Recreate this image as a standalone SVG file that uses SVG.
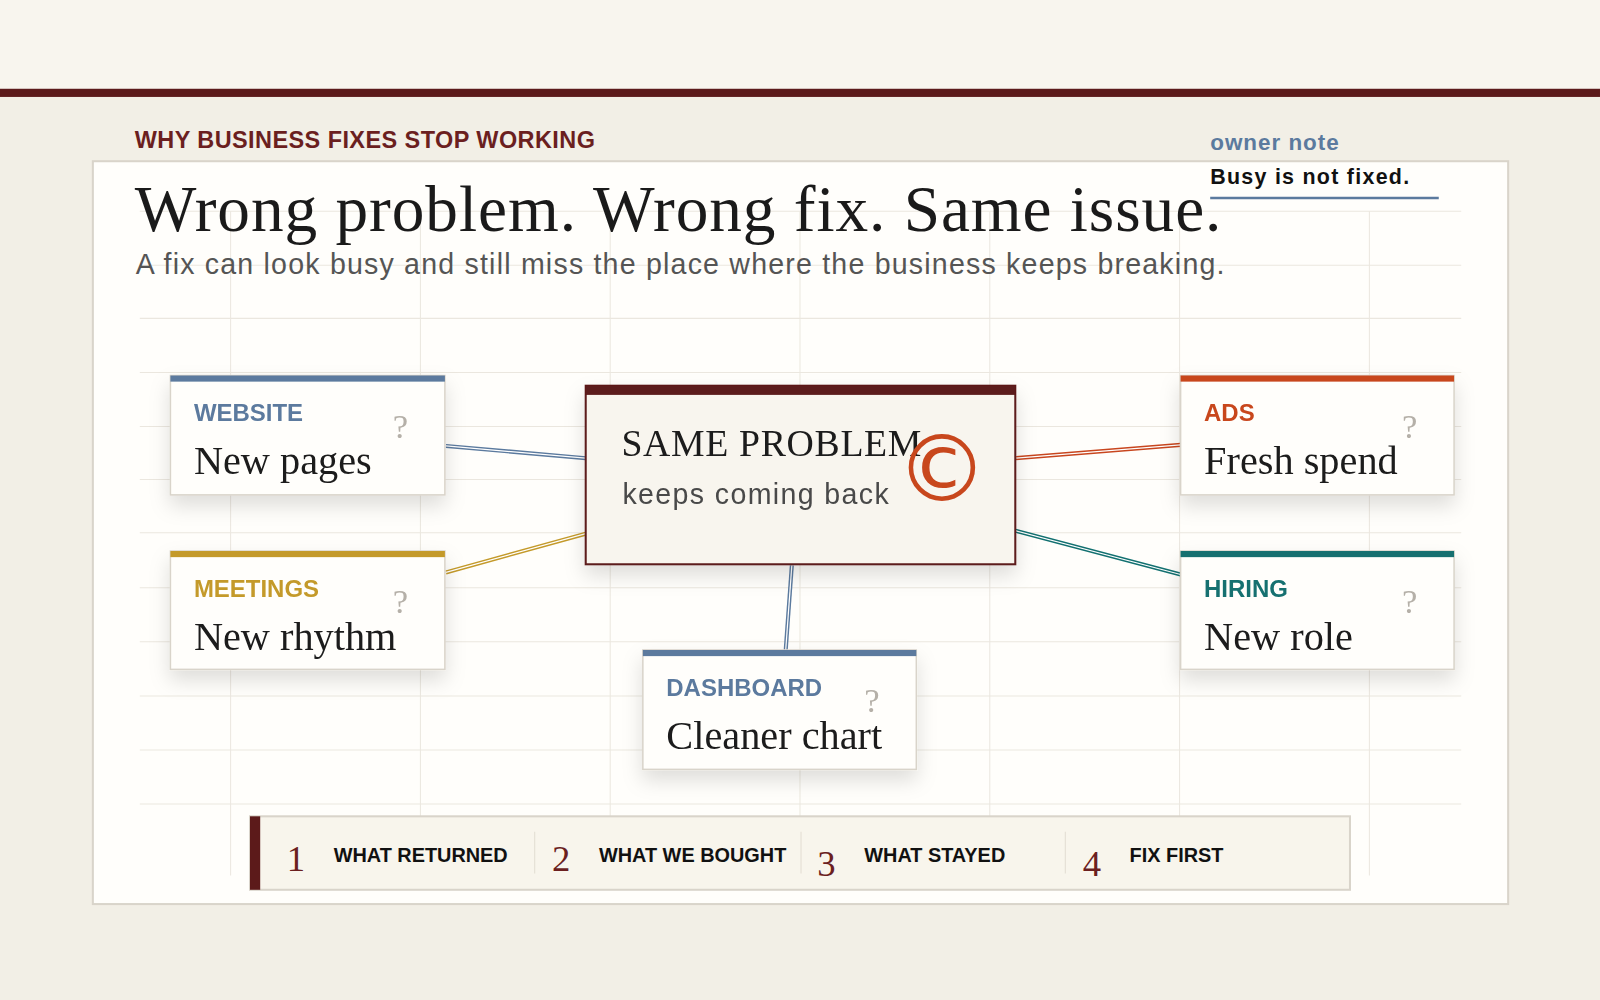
<svg xmlns="http://www.w3.org/2000/svg" width="1600" height="1000" viewBox="0 0 1600 1000">
<defs>
<filter id="sh" x="-20%" y="-20%" width="140%" height="160%"><feDropShadow dx="0" dy="10" stdDeviation="10" flood-color="#000" flood-opacity="0.13"/></filter>
<style>
.grid line{stroke:#ebe7df;stroke-width:1}
.card{fill:#fffefb;stroke:#d9d4ca;stroke-width:1.5}
.lab{font-family:"Liberation Sans",Arial,sans-serif;font-weight:bold;font-size:23.5px}
.big{font-family:"Liberation Serif","DejaVu Serif",serif;font-size:39.5px;fill:#1a1a1a}
.q{font-family:"Liberation Serif",serif;font-size:34px;fill:#b5b0a8}
.fn{font-family:"Liberation Serif",serif;font-size:36px;fill:#6b1f1f}
.ft{font-family:"Liberation Sans",Arial,sans-serif;font-weight:bold;font-size:19.5px;fill:#111}
</style>
</defs>
<g transform="scale(1.0204)">
<rect width="1568" height="980" fill="#f2efe6"/>
<rect width="1568" height="87" fill="#f8f5ee"/>
<rect y="87" width="1568" height="8" fill="#5c1a1a"/>
<rect x="91" y="158" width="1387" height="728" fill="#fffefb" stroke="#d9d4ca" stroke-width="2"/>
<g class="grid">
<line x1="137" y1="207" x2="1432" y2="207"/><line x1="137" y1="260" x2="1432" y2="260"/><line x1="137" y1="312" x2="1432" y2="312"/><line x1="137" y1="365" x2="1432" y2="365"/><line x1="137" y1="418" x2="1432" y2="418"/><line x1="137" y1="470" x2="1432" y2="470"/><line x1="137" y1="522" x2="1432" y2="522"/><line x1="137" y1="576" x2="1432" y2="576"/><line x1="137" y1="629" x2="1432" y2="629"/><line x1="137" y1="682" x2="1432" y2="682"/><line x1="137" y1="735" x2="1432" y2="735"/><line x1="137" y1="788" x2="1432" y2="788"/>
<line x1="226" y1="207" x2="226" y2="858"/><line x1="412" y1="207" x2="412" y2="858"/><line x1="598" y1="207" x2="598" y2="858"/><line x1="784" y1="207" x2="784" y2="858"/><line x1="970" y1="207" x2="970" y2="858"/><line x1="1156" y1="207" x2="1156" y2="858"/><line x1="1342" y1="207" x2="1342" y2="858"/>
</g>
<text x="132" y="145" font-family="Liberation Sans,Arial,sans-serif" font-weight="bold" font-size="23" textLength="451" fill="#6b1f1f">WHY BUSINESS FIXES STOP WORKING</text>
<text x="132" y="226" font-family="Liberation Serif,serif" font-size="64" textLength="1065" fill="#1a1a1a">Wrong problem. Wrong fix. Same issue.</text>
<text x="133" y="269" font-family="Liberation Sans,Arial,sans-serif" font-size="28" textLength="1067" fill="#555">A fix can look busy and still miss the place where the business keeps breaking.</text>
<g id="owner-note">
<text x="1186" y="147" font-family="Liberation Sans,Arial,sans-serif" font-weight="bold" font-size="22" textLength="126" fill="#5b7a9e">owner note</text>
<text x="1186" y="180" font-family="Liberation Sans,Arial,sans-serif" font-weight="bold" font-size="21" textLength="195" fill="#111">Busy is not fixed.</text>
<line x1="1186" y1="194" x2="1410" y2="194" stroke="#5b7a9e" stroke-width="2.5"/>
</g>
<g id="connectors" fill="none">
<path d="M437,437 L574,449" stroke="#5b7a9e" stroke-width="4"/><path d="M437,437 L574,449" stroke="#fff" stroke-width="1.2"/>
<path d="M437,561 L574,523" stroke="#c49a2a" stroke-width="4"/><path d="M437,561 L574,523" stroke="#fff" stroke-width="1.2"/>
<path d="M776,554 L770,637" stroke="#5b7a9e" stroke-width="4"/><path d="M776,554 L770,637" stroke="#fff" stroke-width="1.2"/>
<path d="M995,449 L1157,436" stroke="#c8461e" stroke-width="4"/><path d="M995,449 L1157,436" stroke="#fff" stroke-width="1.2"/>
<path d="M995,520 L1157,563" stroke="#127070" stroke-width="4"/><path d="M995,520 L1157,563" stroke="#fff" stroke-width="1.2"/>
</g>
<g id="center" filter="url(#sh)">
<rect x="574" y="378" width="421" height="175" fill="#f8f5ee" stroke="#5c1a1a" stroke-width="2"/>
<rect x="574" y="378" width="421" height="9" fill="#5c1a1a"/>
<text x="609" y="447" font-family="Liberation Serif,serif" font-size="37" textLength="294" fill="#1a1a1a">SAME PROBLEM</text>
<text x="610" y="494" font-family="Liberation Sans,Arial,sans-serif" font-size="28" textLength="261" fill="#4a4a4a">keeps coming back</text>
<text x="923" y="491" text-anchor="middle" font-family="DejaVu Sans,sans-serif" font-size="90" fill="#c8461e">©</text>
</g>
<g id="website" filter="url(#sh)"><rect class="card" x="167" y="368" width="269" height="117"/><rect x="167" y="368" width="269" height="6" fill="#5b7a9e"/><text class="lab" x="190" y="413" fill="#5b7a9e">WEBSITE</text><text class="q" x="385" y="429">?</text><text class="big" x="190" y="465">New pages</text></g>
<g id="meetings" filter="url(#sh)"><rect class="card" x="167" y="540" width="269" height="116"/><rect x="167" y="540" width="269" height="6" fill="#c49a2a"/><text class="lab" x="190" y="585" fill="#c49a2a">MEETINGS</text><text class="q" x="385" y="601">?</text><text class="big" x="190" y="637">New rhythm</text></g>
<g id="dashboard" filter="url(#sh)"><rect class="card" x="630" y="637" width="268" height="117"/><rect x="630" y="637" width="268" height="6" fill="#5b7a9e"/><text class="lab" x="653" y="682" fill="#5b7a9e">DASHBOARD</text><text class="q" x="847" y="698">?</text><text class="big" x="653" y="734">Cleaner chart</text></g>
<g id="ads" filter="url(#sh)"><rect class="card" x="1157" y="368" width="268" height="117"/><rect x="1157" y="368" width="268" height="6" fill="#c8461e"/><text class="lab" x="1180" y="413" fill="#c8461e">ADS</text><text class="q" x="1374" y="429">?</text><text class="big" x="1180" y="465">Fresh spend</text></g>
<g id="hiring" filter="url(#sh)"><rect class="card" x="1157" y="540" width="268" height="116"/><rect x="1157" y="540" width="268" height="6" fill="#127070"/><text class="lab" x="1180" y="585" fill="#127070">HIRING</text><text class="q" x="1374" y="601">?</text><text class="big" x="1180" y="637">New role</text></g>
<g id="footer">
<rect x="245" y="800" width="1078" height="72" fill="#f8f5ec" stroke="#d9d4ca" stroke-width="2"/>
<rect x="245" y="800" width="10" height="72" fill="#5c1a1a"/>
<line x1="524" y1="815" x2="524" y2="856" stroke="#e2ddd2"/><line x1="785" y1="815" x2="785" y2="856" stroke="#e2ddd2"/><line x1="1044" y1="815" x2="1044" y2="856" stroke="#e2ddd2"/>
<text class="fn" x="281" y="854">1</text><text class="ft" x="327" y="845">WHAT RETURNED</text>
<text class="fn" x="541" y="854">2</text><text class="ft" x="587" y="845">WHAT WE BOUGHT</text>
<text class="fn" x="801" y="858">3</text><text class="ft" x="847" y="845">WHAT STAYED</text>
<text class="fn" x="1061" y="858">4</text><text class="ft" x="1107" y="845">FIX FIRST</text>
</g>
</g>
</svg>
